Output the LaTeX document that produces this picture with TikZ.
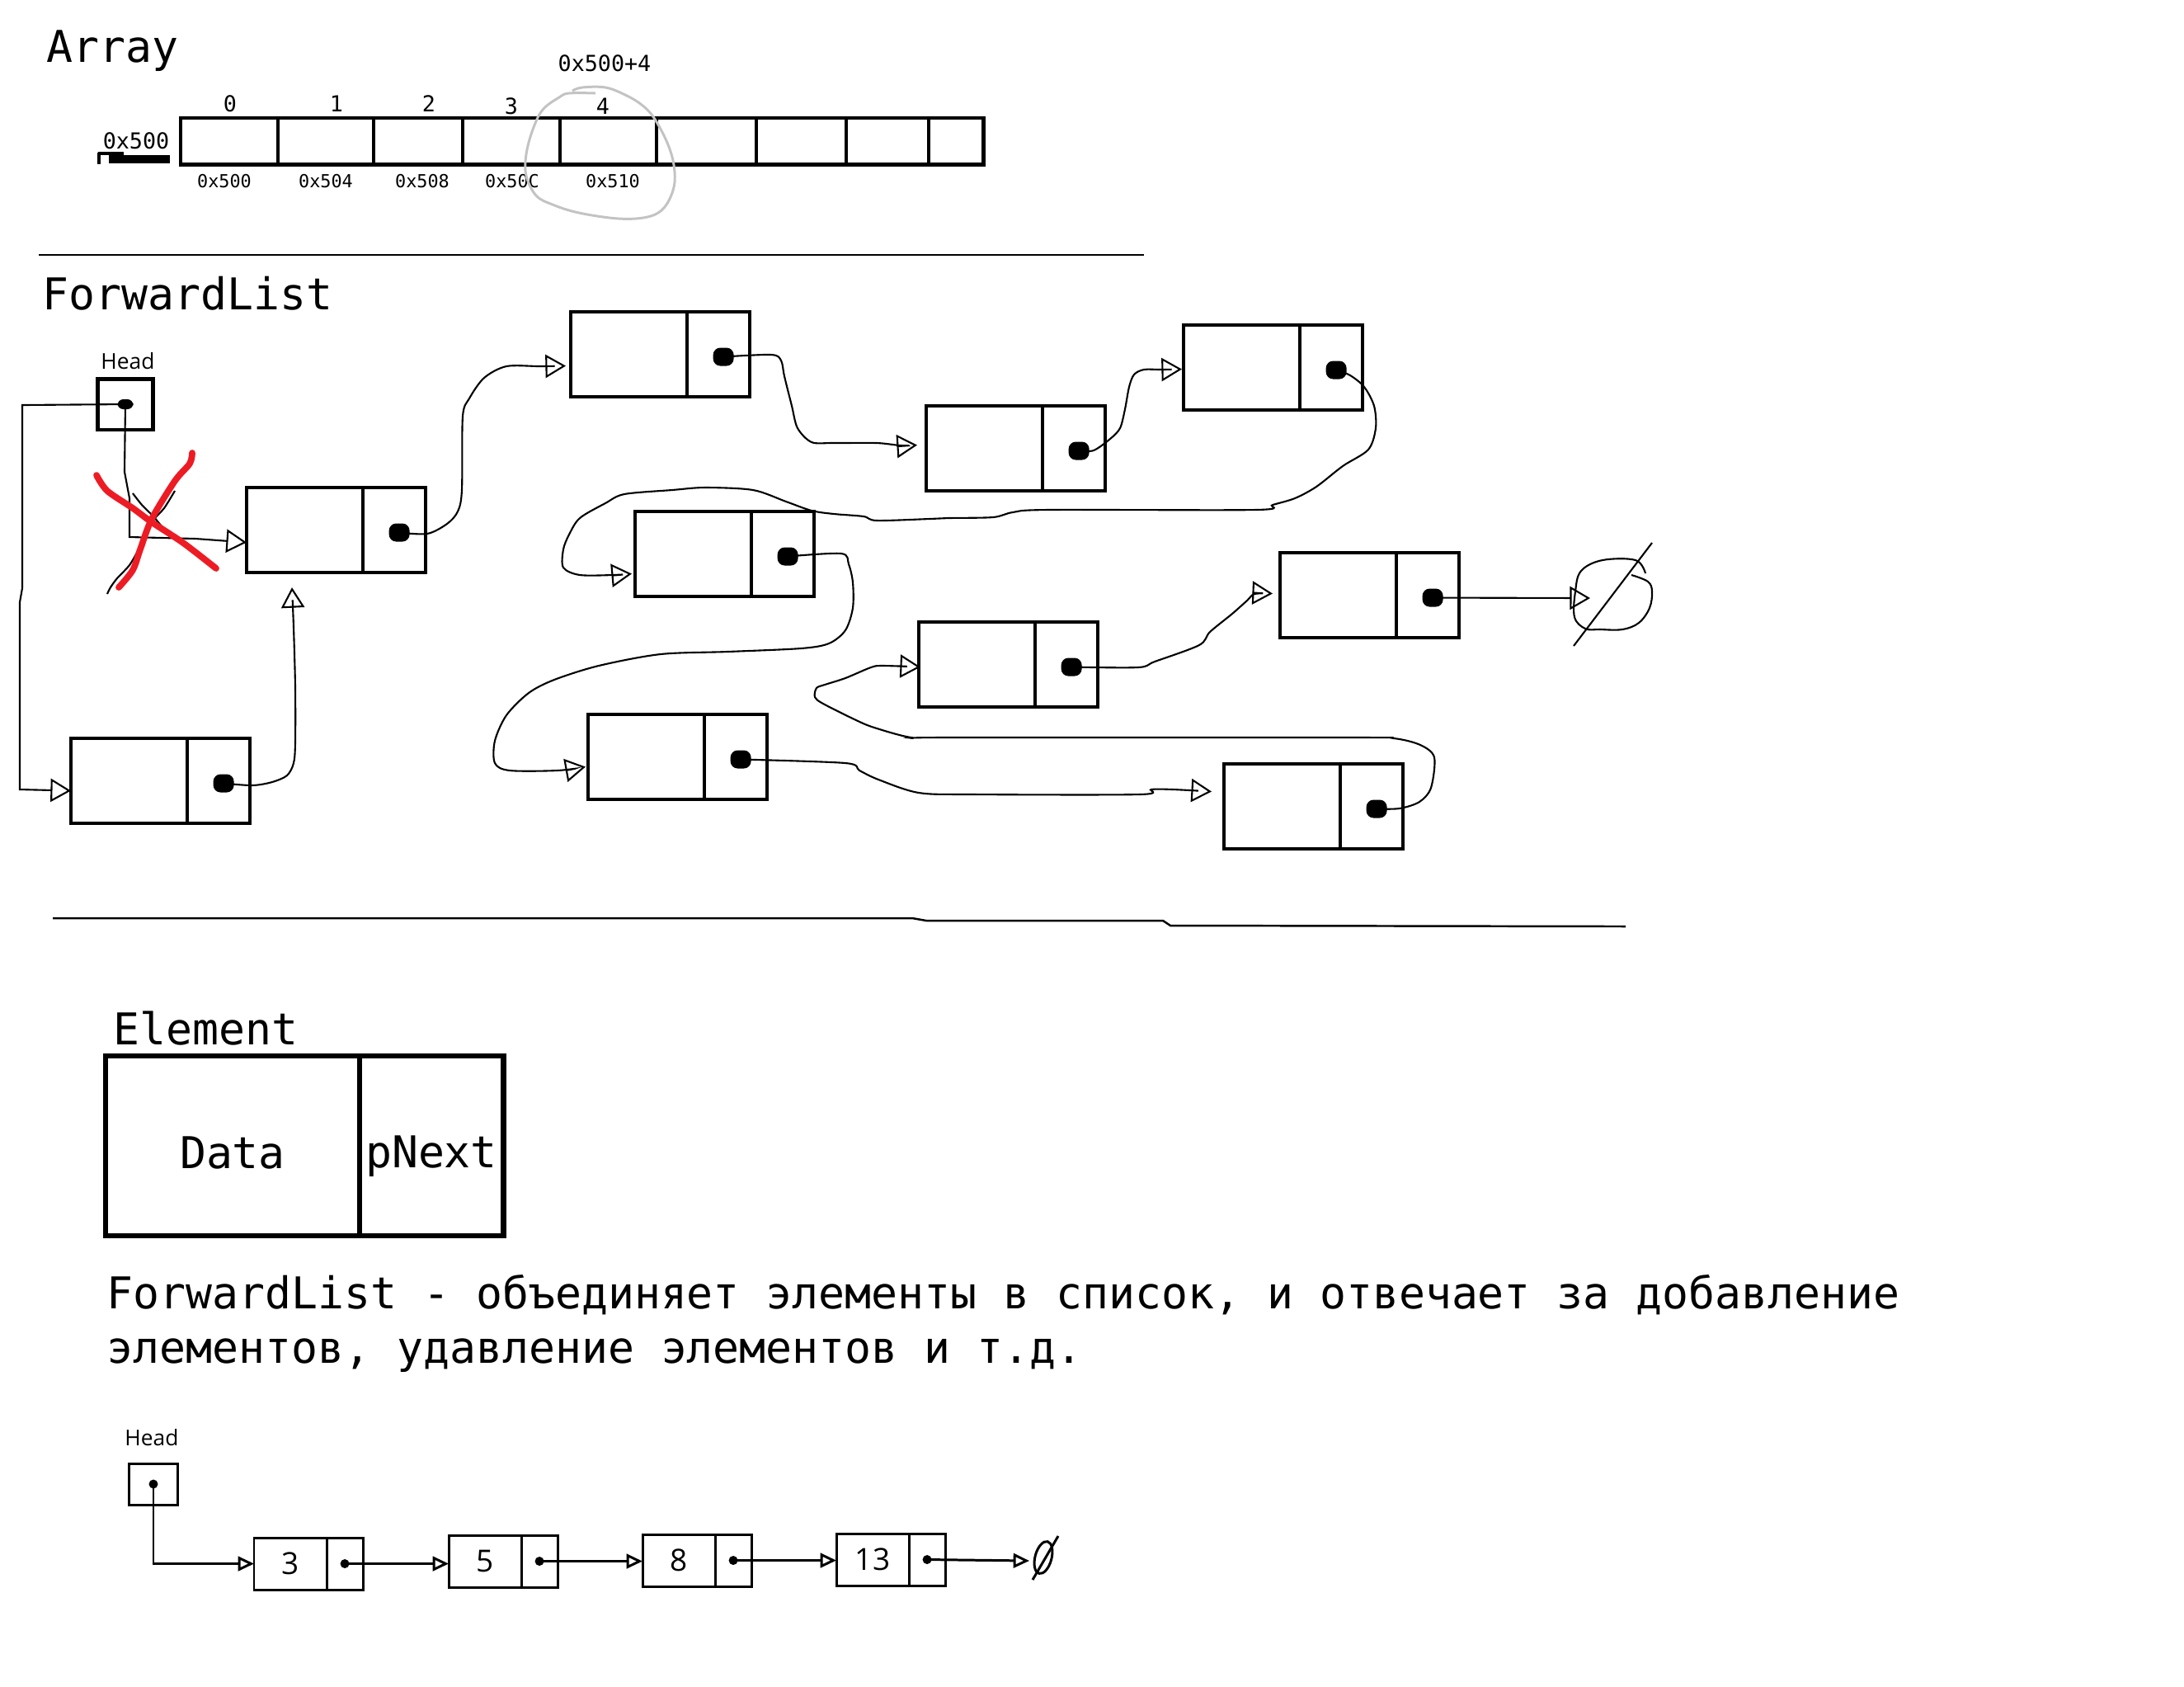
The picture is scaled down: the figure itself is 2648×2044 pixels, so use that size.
\documentclass[tikz,border=0pt]{standalone}
\usepackage{fontspec}
\setmainfont{DejaVu Sans Mono}
\newfontfamily\uifont{Open Sans}
\usetikzlibrary{calc,arrows.meta,positioning}
\definecolor{xred}{RGB}{237,28,36}
\definecolor{circgrey}{RGB}{195,195,195}

\newcommand\listelem[3]{%
  \node[datacell] (#1) at (#2,#3) {};
  \node[ptrcell] (#1p) at (#1.east) {};
  \node[ptrdot] (#1d) at ([xshift=0.06cm,yshift=-0.03cm]#1p.center) {};
}
\newcommand\smallelem[4]{%
  \node[sdata] (#1) at (#2,#3) {#4};
  \node[sptr] (#1p) at (#1.east) {};
  \node[sdot] (#1d) at (#1p.center) {};
}

\begin{document}
\begin{tikzpicture}[x=0.01cm, y=-0.01cm,
    bigtext/.style={font=\fontsize{15.1}{18}\selectfont, inner sep=0pt},
    tinytext/.style={font=\fontsize{7.6}{9}\selectfont, inner sep=0pt},
    addrtext/.style={font=\fontsize{6.2}{7}\selectfont, inner sep=0pt},
    headlbl/.style={font=\uifont\fontsize{7.5}{9}\selectfont, inner sep=0pt},
    datacell/.style={draw, line width=1.3pt, minimum width=1.41cm, minimum height=1.03cm, inner sep=0pt, outer sep=0pt, anchor=north west},
    ptrcell/.style={draw, line width=1.3pt, minimum width=0.76cm, minimum height=1.03cm, inner sep=0pt, outer sep=0pt, anchor=west},
    ptrdot/.style={fill, rounded corners=2.5pt, minimum width=0.25cm, minimum height=0.22cm, inner sep=0pt},
    link/.style={line width=0.6pt, -{Triangle[open, length=7pt, width=8pt]}},
    sdata/.style={draw, line width=0.85pt, minimum width=0.88cm, minimum height=0.63cm, inner sep=0pt, outer sep=0pt, anchor=north west, font=\uifont\fontsize{10.5}{11}\selectfont},
    sptr/.style={draw, line width=0.85pt, minimum width=0.44cm, minimum height=0.63cm, inner sep=0pt, outer sep=0pt, anchor=west},
    sdot/.style={fill, circle, minimum size=0.11cm, inner sep=0pt},
    blink/.style={line width=0.85pt, -{Triangle[open, length=5.5pt, width=5pt]}},
    sepline/.style={line width=0.7pt},
    cross/.style={line width=2.2pt, xred, line cap=round, line join=round}]
  \useasboundingbox (0,0) rectangle (2648,2044);

  % Array
  \node[bigtext, anchor=base west] (arrtitle) at (56,75) {Array};
  \node[draw, line width=1.4pt, minimum width=9.73cm, minimum height=0.56cm, inner sep=0pt, outer sep=0pt, anchor=north west] (arr) at (219,143) {};
  \foreach \x in {337,453,561,679,796,917,1026,1126}
    \draw[line width=1.4pt] (\x,143) -- (\x,199);
  \foreach \i/\x/\y in {0/279/126, 1/408/126, 2/520/126, 3/620/129, 4/731/129}
    \node[tinytext] (idx\i) at (\x,\y) {\i};
  \foreach \a/\x in {500/272, 504/395, 508/512, 50C/621, 510/743}
    \node[addrtext] (addr\a) at (\x,220) {0x\a};
  \node[tinytext] (offset) at (733,77) {0x500+4};
  \node[tinytext] (base) at (165,171) {0x500};
  \fill (132,188) rectangle (206,198);
  \fill (119,184) rectangle (150,188);
  \draw[line width=1.2pt] (120,185) -- (120,199);
  \draw[circgrey, line width=0.85pt] plot[smooth, tension=0.6] coordinates {(694,110) (706,106) (734,106) (758,115) (778,127) (793,143) (809,173) (817,200) (817,227) (805,252) (785,263) (750,265) (702,258) (670,248) (650,237) (638,213) (638,187) (646,157) (658,133) (678,118) (690,113) (722,113)};

  \draw[sepline] (47,309) -- (1387,309);

  % ForwardList
  \node[bigtext, anchor=base west] (fltitle) at (51,375) {ForwardList};
  \node[headlbl] (headlbl) at (155,438) {Head};
  \node[draw, line width=1.15pt, minimum width=0.67cm, minimum height=0.61cm, inner sep=0pt, outer sep=0pt] (head) at (152,490) {};
  \node[fill, rounded corners=2pt, minimum width=0.19cm, minimum height=0.12cm, inner sep=0pt] (headd) at (head.center) {};

  \listelem{a}{299}{591}
  \listelem{b}{692}{378}
  \listelem{c}{1123}{492}
  \listelem{d}{1435}{394}
  \listelem{e}{770}{620}
  \listelem{f}{1114}{754}
  \listelem{g}{1552}{670}
  \listelem{h}{713}{866}
  \listelem{i}{1484}{926}
  \listelem{j}{86}{895}

  \coordinate (atip) at ($(a.west)+(0,15)$);
  \coordinate (atip2) at ($(a.south west)+(55,18)$);
  \coordinate (btip) at ($(b.west)+(-6,14)$);
  \coordinate (ctip) at ($(c.west)+(-11,-4)$);
  \coordinate (dtip) at ($(d.west)+(-2,2)$);
  \coordinate (etip) at ($(e.west)+(-4,24)$);
  \coordinate (ftip) at ($(f.west)+(2,3)$);
  \coordinate (gtip) at ($(g.west)+(-9,-2)$);
  \coordinate (htip) at ($(h.west)+(-3,12)$);
  \coordinate (itip) at ($(i.west)+(-15,-18)$);
  \coordinate (jtip) at ($(j.west)+(0,12)$);
  \coordinate (gnull) at (1928,725);

  \draw[link] (headd.center) -- (151,572) -- (157,604) -- (157,651) -- (237,653) -- (atip);
  \draw[link] (headd.center) -- (27,491) -- (27,713) -- (24,730) -- (24,957) -- (jtip);
  \draw[link] plot[smooth, tension=0.5] coordinates {(jd.center) (306,952) (330,948) (348,940) (356,925) (358,900) (358,833) (356,760) (atip2)};
  \draw[link] plot[smooth, tension=0.5] coordinates {(ad.center) (518,647) (542,635) (555,620) (560,594) (561,505) (569,483) (587,458) (614,444) (654,444) (btip)};
  \draw[link] plot[smooth, tension=0.5] coordinates {(bd.center) (935,430) (947,437) (951,456) (960,492) (967,519) (984,536) (1010,537) (1063,537) (1092,540) (ctip)};
  \draw[link] plot[smooth, tension=0.5] coordinates {(cd.center) (1326,546) (1346,532) (1358,519) (1364,496) (1369,469) (1375,454) (1387,448) (1407,448) (dtip)};
  \draw[link] plot[smooth, tension=0.5] coordinates {(dd.center) (1637,455) (1654,469) (1666,492) (1668,519) (1659,545) (1628,565) (1596,590) (1570,604) (1543,612) (1523,618) (1271,618) (1228,621) (1204,627) (1150,628) (1127,629) (1063,631) (1047,626) (1011,623) (984,619) (953,608) (913,594) (855,591) (815,594) (757,599) (734,610) (703,628) (690,648) (683,666) (683,688) (703,697) (743,697) (etip)};
  \draw[link] plot[smooth, tension=0.5] coordinates {(ed.center) (1020,671) (1029,684) (1034,706) (1034,737) (1025,764) (1005,780) (971,786) (882,790) (801,793) (726,807) (672,824) (641,840) (614,867) (600,898) (600,925) (618,934) (676,934) (htip)};
  \draw[link] plot[smooth, tension=0.5] coordinates {(hd.center) (1025,925) (1042,934) (1065,945) (1114,961) (1180,963) (1382,963) (1396,957) (1422,957) (itip)};
  \draw[link] plot[smooth, tension=0.5] coordinates {(id.center) (1697,980) (1721,972) (1735,955) (1739,918) (1722,903) (1690,895) (1640,894) (1150,894) (1105,894) (1060,882) (1038,873) (998,853) (988,845) (990,834) (1000,830) (1025,822) (1056,809) (1070,807) (ftip)};
  \draw[link] plot[smooth, tension=0.5] coordinates {(fd.center) (1380,809) (1400,802) (1454,782) (1467,766) (1494,744) (1512,728) (1521,720) (gtip)};
  \draw[link] (gd.center) -- (gnull);
  \draw[line width=0.6pt] plot[smooth, tension=0.6] coordinates {(1995,695) (1983,679) (1943,679) (1917,692) (1910,717) (1909,748) (1922,762) (1940,763) (1967,763) (1987,755) (2000,737) (2003,717) (1998,705) (1978,697)};
  \draw[line width=0.6pt] (1908,783) -- (2003,658);

  % crossed out
  \draw[line width=0.6pt] plot[smooth] coordinates {(161,598) (172,612) (186,626) (199,641) (214,651)};
  \draw[line width=0.6pt] plot[smooth] coordinates {(130,720) (134,712) (142,701) (157,685) (168,666) (185,632) (199,616) (212,595)};
  \draw[cross] plot[smooth] coordinates {(117,576) (130,595) (161,616) (184,633) (222,658) (262,689)};
  \draw[cross] plot[smooth] coordinates {(233,549) (230,562) (212,583) (184,629) (170,666) (161,691) (144,712)};

  \draw[sepline] (64,1113) -- (1106,1113) -- (1123,1116) -- (1410,1116) -- (1419,1122) -- (1971,1123);

  % Element
  \node[bigtext, anchor=base west] (elemtitle) at (137,1266) {Element};
  \node[draw, line width=1.85pt, minimum width=3.08cm, minimum height=2.18cm, inner sep=0pt, outer sep=0pt, anchor=north west] (edata) at (128,1280) {};
  \node[draw, line width=1.85pt, minimum width=1.74cm, minimum height=2.18cm, inner sep=0pt, outer sep=0pt, anchor=west] (enext) at (edata.east) {};
  \node[bigtext, anchor=base] (datalbl) at (282,1416) {Data};
  \node[bigtext, anchor=base] (nextlbl) at (523,1415) {pNext};

  \node[bigtext, anchor=base west] (desc1) at (129,1586) {ForwardList - объединяет элементы в список, и отвечает за добавление};
  \node[bigtext, anchor=base west] (desc2) at (129,1652) {элементов, удавление элементов и т.д.};

  % small list
  \node[headlbl] (bheadlbl) at (184,1743) {Head};
  \node[draw, line width=0.85pt, minimum width=0.58cm, minimum height=0.50cm, inner sep=0pt, outer sep=0pt] (bhead) at (186,1799) {};
  \node[sdot] (bheadd) at (bhead.center) {};
  \smallelem{s1}{308}{1864}{3}
  \smallelem{s2}{544}{1861}{5}
  \smallelem{s3}{779}{1860}{8}
  \smallelem{s4}{1014}{1859}{13}
  \draw[blink] (bheadd.center) |- (s1.west);
  \foreach \p/\q in {s1/s2, s2/s3, s3/s4}
    \draw[blink] (\p d.center) -- (\p d.center -| \q.west);
  \coordinate (snull) at (1248,1892);
  \draw[blink] (s4d.center) -- (snull);
  \draw[line width=0.85pt, rotate around={-15:(1265,1888)}] (1265,1888) ellipse [x radius=0.1cm, y radius=0.2cm];
  \draw[line width=0.85pt] (1252,1915) -- (1283,1862);
\end{tikzpicture}
\end{document}
